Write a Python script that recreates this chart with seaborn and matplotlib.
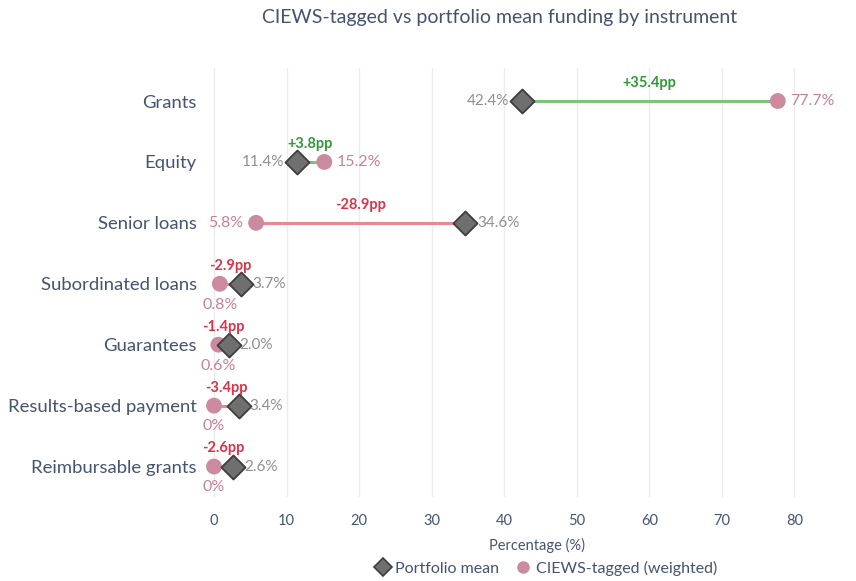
import matplotlib
matplotlib.use("Agg")
import matplotlib.pyplot as plt
import seaborn as sns
import pandas as pd
from matplotlib.lines import Line2D

# --- data -------------------------------------------------------------------
categories = ["Grants", "Equity", "Senior loans", "Subordinated loans",
              "Guarantees", "Results-based payment", "Reimbursable grants"]
portfolio_mean = [42.4, 11.4, 34.6, 3.7, 2.0, 3.4, 2.6]
ciews_tagged = [77.7, 15.2, 5.8, 0.8, 0.6, 0.0, 0.0]
gap_labels = ["+35.4pp", "+3.8pp", "-28.9pp", "-2.9pp", "-1.4pp", "-3.4pp", "-2.6pp"]
x_ticks = [0, 10, 20, 30, 40, 50, 60, 70, 80]

df = pd.DataFrame({"Instrument": categories, "Portfolio": portfolio_mean,
                   "CIEWS": ciews_tagged, "Gap": gap_labels})
df["row"] = range(len(df))

TEXT = "#44546f"
GREY_M = "#6f6f6f"
GREY_T = "#8f8f8f"
PINK = "#cc8a9f"
PINK_T = "#c6819a"
GREEN_L, GREEN_T = "#7cc47a", "#2f9b33"
RED_L, RED_T = "#ea8791", "#db3347"

sns.set_theme(style="white")
plt.rcParams["font.family"] = ["Lato", "DejaVu Sans"]

fig = plt.figure(figsize=(8.56, 5.81), dpi=100)
ax = fig.add_axes([199.5 / 856, 1 - 497 / 581, (838 - 199.5) / 856, (497 - 67.5) / 581])


def fmt(v):
    return "0%" if v == 0 else f"{v:.1f}%"


# connector lines
for _, r in df.iterrows():
    up = r["CIEWS"] > r["Portfolio"]
    ax.plot([r["Portfolio"], r["CIEWS"]], [r["row"], r["row"]],
            color=GREEN_L if up else RED_L, lw=2.2, zorder=1, solid_capstyle="butt")

sns.scatterplot(data=df, x="Portfolio", y="row", marker="D", s=150, color=GREY_M,
                edgecolor="#3d3d3d", linewidth=1.3, zorder=3, ax=ax)
sns.scatterplot(data=df, x="CIEWS", y="row", marker="o", s=130, color=PINK,
                edgecolor="none", zorder=2, ax=ax)

# labels
for _, r in df.iterrows():
    p, c, y = r["Portfolio"], r["CIEWS"], r["row"]
    up = c > p
    ax.annotate(r["Gap"], ((p + c) / 2, y), xytext=(0, 13), textcoords="offset points",
                ha="center", va="center", fontsize=10.5, fontweight="bold",
                color=GREEN_T if up else RED_T)
    if up:
        ax.annotate(fmt(p), (p, y), xytext=(-9, 0), textcoords="offset points",
                    ha="right", va="center", fontsize=11, color=GREY_T)
        ax.annotate(fmt(c), (c, y), xytext=(9, 0), textcoords="offset points",
                    ha="left", va="center", fontsize=11.5, color=PINK_T)
    elif p - c > 8:
        ax.annotate(fmt(c), (c, y), xytext=(-9, 0), textcoords="offset points",
                    ha="right", va="center", fontsize=11.5, color=PINK_T)
        ax.annotate(fmt(p), (p, y), xytext=(9, 0), textcoords="offset points",
                    ha="left", va="center", fontsize=11, color=GREY_T)
    else:
        ax.annotate(fmt(c), (c, y), xytext=(0, -15), textcoords="offset points",
                    ha="center", va="center", fontsize=11.5, color=PINK_T)
        ax.annotate(fmt(p), (p, y), xytext=(8, 0), textcoords="offset points",
                    ha="left", va="center", fontsize=11, color=GREY_T)

ax.set_xlim(-2, 86)
ax.set_ylim(6.5, -0.55)
ax.set_yticks(df["row"])
ax.set_yticklabels(categories)
ax.set_xticks(x_ticks)
ax.tick_params(axis="y", labelsize=13.3, labelcolor=TEXT, length=0, pad=2)
ax.tick_params(axis="x", labelsize=10.5, labelcolor=TEXT, length=0, pad=12)
ax.grid(axis="x", color="#ececec", lw=1)
ax.grid(axis="y", visible=False)
for s in ax.spines.values():
    s.set_visible(False)
ax.set_ylabel("")
ax.set_xlabel("Percentage (%)", fontsize=10.5, color=TEXT)
ax.xaxis.set_label_coords(0.529, -0.095)

fig.text(500 / 856, 1 - 18 / 581, "CIEWS-tagged vs portfolio mean funding by instrument",
         ha="center", va="center", fontsize=14, color=TEXT)

handles = [
    Line2D([], [], marker="D", ls="", markersize=9, markerfacecolor=GREY_M,
           markeredgecolor="#3d3d3d", markeredgewidth=1.2, label="Portfolio mean"),
    Line2D([], [], marker="o", ls="", markersize=9, markerfacecolor=PINK,
           markeredgecolor="none", label="CIEWS-tagged (weighted)"),
]
leg = fig.legend(handles=handles, loc="center", bbox_to_anchor=(546 / 856, 1 - 568 / 581),
                 ncol=2, frameon=False, fontsize=11.5, handletextpad=0.3,
                 columnspacing=1.0, handlelength=1.0)
for t in leg.get_texts():
    t.set_color(TEXT)

fig.savefig("out.png", dpi=100)
